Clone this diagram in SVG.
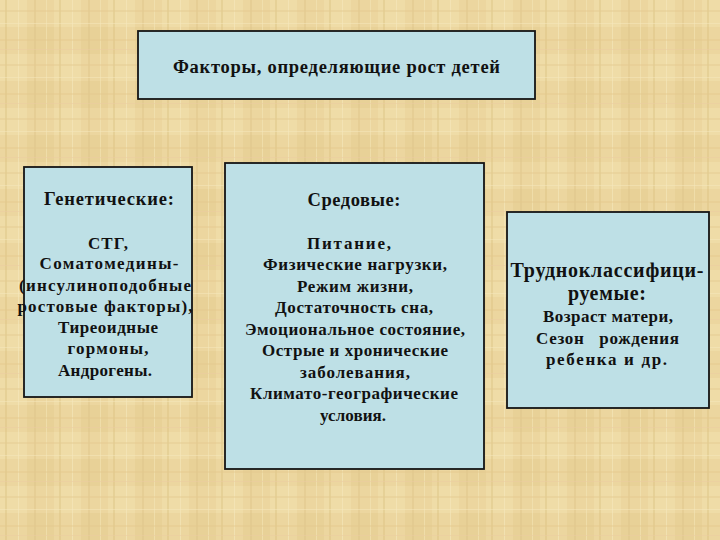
<svg xmlns="http://www.w3.org/2000/svg" width="720" height="540" viewBox="0 0 720 540">
<defs>
<pattern id="burlap" width="54" height="54" patternUnits="userSpaceOnUse">
<rect width="54" height="54" fill="#ecd69f"/>
<rect x="0" y="0" width="27" height="27" fill="#f1dfac" opacity="0.7"/>
<rect x="27" y="27" width="27" height="27" fill="#e7cf95" opacity="0.7"/>
<rect x="5" y="0" width="2" height="54" fill="#dcc384" opacity="0.45"/>
<rect x="18" y="0" width="1" height="54" fill="#f5e7bd" opacity="0.6"/>
<rect x="34" y="0" width="2" height="54" fill="#ddc487" opacity="0.4"/>
<rect x="46" y="0" width="1" height="54" fill="#f4e4b6" opacity="0.6"/>
<rect x="0" y="10" width="54" height="2" fill="#e4cb90" opacity="0.45"/>
<rect x="0" y="23" width="54" height="1" fill="#f6e8be" opacity="0.5"/>
<rect x="0" y="39" width="54" height="2" fill="#e3c98c" opacity="0.4"/>
<rect x="0" y="49" width="54" height="1" fill="#eccca2" opacity="0.5"/>
</pattern>
</defs>
<style>
.box{fill:#bee0e6;stroke:#151515;stroke-width:1.8}
.txt{font-family:'Liberation Serif','Times New Roman',serif;font-weight:bold;fill:#111;text-anchor:middle}
.t{font-size:18.5px}
.h{font-size:18.5px}
.b{font-size:17px}
.r{font-size:20px}
</style>
<rect width="720" height="540" fill="url(#burlap)"/>
<g id="connectors"/>
<g id="title" class="txt">
<rect class="box" x="138" y="31" width="397" height="68"/>
<text class="t" x="336.5" y="73" textLength="327" lengthAdjust="spacing">Факторы, определяющие рост детей</text>
</g>
<g id="genetic" class="txt">
<rect class="box" x="24" y="167" width="168" height="230"/>
<text class="h" x="109" y="205" textLength="130" lengthAdjust="spacing">Генетические:</text>
<text class="b" x="108" y="249" textLength="40" lengthAdjust="spacing">СТГ,</text>
<text class="b" x="109" y="269" textLength="139" lengthAdjust="spacing">Соматомедины-</text>
<text class="b" x="105" y="291" textLength="172" lengthAdjust="spacing">(инсулиноподобные</text>
<text class="b" x="105" y="312" textLength="175" lengthAdjust="spacing">ростовые факторы),</text>
<text class="b" x="108" y="333" textLength="100" lengthAdjust="spacing">Тиреоидные</text>
<text class="b" x="108" y="354" textLength="81" lengthAdjust="spacing">гормоны,</text>
<text class="b" x="105" y="376" textLength="94" lengthAdjust="spacing">Андрогены.</text>
</g>
<g id="environment" class="txt">
<rect class="box" x="225" y="163" width="259" height="306"/>
<text class="h" x="354" y="206" textLength="93" lengthAdjust="spacing">Средовые:</text>
<text class="b" x="349" y="249" textLength="84" lengthAdjust="spacing">Питание,</text>
<text class="b" x="355" y="270" textLength="184" lengthAdjust="spacing">Физические нагрузки,</text>
<text class="b" x="355" y="292" textLength="116" lengthAdjust="spacing">Режим жизни,</text>
<text class="b" x="354" y="313" textLength="158" lengthAdjust="spacing">Достаточность сна,</text>
<text class="b" x="355" y="335" textLength="220" lengthAdjust="spacing">Эмоциональное состояние,</text>
<text class="b" x="355" y="356" textLength="186" lengthAdjust="spacing">Острые и хронические</text>
<text class="b" x="355" y="378" textLength="110" lengthAdjust="spacing">заболевания,</text>
<text class="b" x="354" y="399" textLength="208" lengthAdjust="spacing">Климато-географические</text>
<text class="b" x="353" y="421" textLength="66" lengthAdjust="spacing">условия.</text>
</g>
<g id="hard" class="txt">
<rect class="box" x="507" y="212" width="202" height="196"/>
<text class="r" x="607" y="277" textLength="193" lengthAdjust="spacing">Трудноклассифици-</text>
<text class="r" x="607" y="300" textLength="78" lengthAdjust="spacing">руемые:</text>
<text class="b" x="608" y="322" textLength="130" lengthAdjust="spacing">Возраст матери,</text>
<text class="b" x="607.5" y="344" textLength="143" lengthAdjust="spacing" xml:space="preserve">Сезон   рождения</text>
<text class="b" x="606.5" y="365" textLength="121" lengthAdjust="spacing">ребенка и др.</text>
</g>
</svg>
